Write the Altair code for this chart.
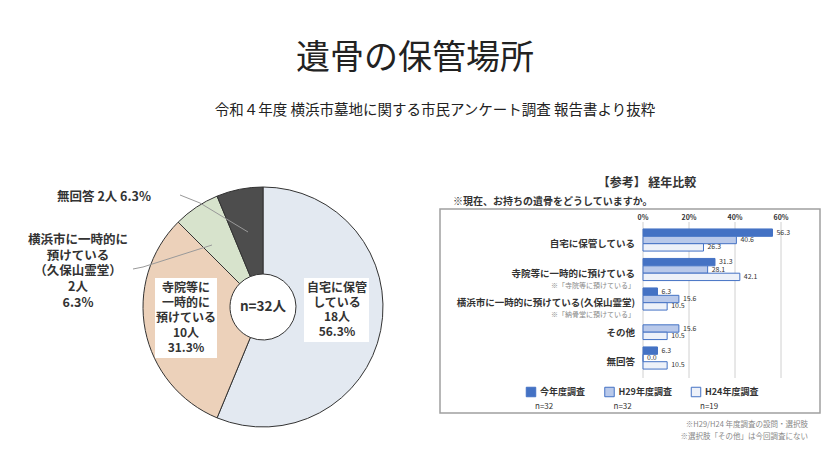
import altair as alt
import pandas as pd

FONT = "Noto Sans CJK JP"

# ---------------- data ----------------
title_text = "遺骨の保管場所"
subtitle_text = "令和４年度 横浜市墓地に関する市民アンケート調査 報告書より抜粋"

pie_labels = ["自宅に保管している", "寺院等に一時的に預けている",
              "横浜市に一時的に預けている（久保山霊堂）", "無回答"]
pie_counts = [18, 10, 2, 2]
pie_pcts = [56.3, 31.3, 6.3, 6.3]
pie_total = 32

bar_cats = ["自宅に保管している", "寺院等に一時的に預けている",
            "横浜市に一時的に預けている(久保山霊堂)", "その他", "無回答"]
bar_notes = ["", "※「寺院等に預けている」", "※「納骨堂に預けている」", "", ""]
series = ["今年度調査", "H29年度調査", "H24年度調査"]
series_n = [32, 32, 19]
v_now = [56.3, 31.3, 6.3, None, 6.3]
v_h29 = [40.6, 28.1, 15.6, 15.6, 0.0]
v_h24 = [26.3, 42.1, 10.5, 10.5, 10.5]
tick_vals = [0, 20, 40, 60]

panel_title = "【参考】 経年比較"
question = "※現在、お持ちの遺骨をどうしていますか。"
footnotes = ["※H29/H24 年度調査の設問・選択肢", "※選択肢「その他」は今回調査にない"]

# ---------------- styles ----------------
pie_colors = ["#e3e9f1", "#ecd1ba", "#d7e3cc", "#4d4d4d"]
bar_fills = ["#4472c4", "#b9c9ea", "#edf1f9"]
BLUE = "#4472c4"
TXT = "#333333"

pie_df = pd.DataFrame({"label": pie_labels, "count": pie_counts,
                       "pct": pie_pcts, "ord": list(range(len(pie_labels)))})

rows = []
for ci, c in enumerate(bar_cats):
    for s, vals in zip(series, [v_now, v_h29, v_h24]):
        if vals[ci] is not None:
            rows.append({"cat": c, "series": s, "v": vals[ci]})
bar_df = pd.DataFrame(rows)
cat_df = pd.DataFrame({"cat": bar_cats, "note": bar_notes})
tick_df = pd.DataFrame({"v": tick_vals, "t": [f"{v}%" for v in tick_vals]})
one = pd.DataFrame({"a": [0]})

xs = alt.Scale(domain=[0, 60], range=[635, 773])
ys = alt.Scale(domain=bar_cats, range=[217.25, 364.75], paddingInner=0.25, paddingOuter=0.125)
yos = alt.Scale(domain=series)

CX, CY = 255, 299

layers = []

# titles
layers.append(alt.Chart(one).mark_text(font=FONT, fontSize=34, color="#222", baseline="middle").encode(
    x=alt.value(407), y=alt.value(51), text=alt.value(title_text)))
layers.append(alt.Chart(one).mark_text(font=FONT, fontSize=14.5, color="#222", baseline="middle").encode(
    x=alt.value(427), y=alt.value(103), text=alt.value(subtitle_text)))

# pie
layers.append(alt.Chart(pie_df).mark_arc(radius=120, innerRadius=33, stroke="#333", strokeWidth=1).encode(
    theta=alt.Theta("count:Q", stack=True),
    order=alt.Order("ord:Q"),
    color=alt.Color("label:N", scale=alt.Scale(domain=pie_labels, range=pie_colors), legend=None),
    x=alt.value(CX), y=alt.value(CY)))

# white boxes behind inside labels
for (x1, x2, y1, y2) in [(296, 361, 270, 334), (147, 209, 270, 350)]:
    layers.append(alt.Chart(one).mark_rect(color="white").encode(
        x=alt.value(x1), x2=alt.value(x2), y=alt.value(y1), y2=alt.value(y2)))

# leader lines
for seg in [[(172, 187), (192, 195)], [(192, 195), (240, 224)],
            [(125, 261), (135, 259)], [(135, 259), (204, 237)]]:
    (a, b), (c, d) = seg
    layers.append(alt.Chart(one).mark_rule(color="#999", strokeWidth=1).encode(
        x=alt.value(a), y=alt.value(b), x2=alt.value(c), y2=alt.value(d)))

pie_text = [
    (["自宅に保管", "している", f"{pie_counts[0]}人", f"{pie_pcts[0]}%"], 329, 280, 14.6, 12),
    (["寺院等に", "一時的に", "預けている", f"{pie_counts[1]}人", f"{pie_pcts[1]}%"], 178, 280, 15, 12),
    (["横浜市に一時的に", "預けている", "（久保山霊堂）", f"{pie_counts[2]}人", f"{pie_pcts[2]}%"], 70, 232, 15.7, 12.5),
    ([f"{pie_labels[3]} {pie_counts[3]}人 {pie_pcts[3]}%"], 96, 189, 15, 12.5),
    ([f"n={pie_total}人"], CX, CY, 15, 13.5),
]
for lines, x, y, lh, fs in pie_text:
    for k, line in enumerate(lines):
        layers.append(alt.Chart(one).mark_text(font=FONT, fontSize=fs, fontWeight="bold", color=TXT,
                                                align="center", baseline="middle").encode(
            x=alt.value(x), y=alt.value(y + k * lh), text=alt.value(line)))

# right panel header
layers.append(alt.Chart(one).mark_text(font=FONT, fontSize=12, fontWeight="bold", color=TXT, baseline="middle").encode(
    x=alt.value(639), y=alt.value(175), text=alt.value(panel_title)))
layers.append(alt.Chart(one).mark_text(font=FONT, fontSize=10, fontWeight="bold", color=TXT, align="left", baseline="middle").encode(
    x=alt.value(445), y=alt.value(194), text=alt.value(question)))
# box
layers.append(alt.Chart(one).mark_rect(fill=None, stroke="#a0a0a0", strokeWidth=1.5).encode(
    x=alt.value(432), x2=alt.value(812), y=alt.value(201), y2=alt.value(405)))

# gridlines + tick labels
layers.append(alt.Chart(tick_df).mark_rule(color="#d0d0d0", strokeWidth=1).encode(
    x=alt.X("v:Q", scale=xs, axis=None), y=alt.value(214), y2=alt.value(370)))
layers.append(alt.Chart(tick_df).mark_text(font=FONT, fontSize=7, fontWeight="bold", color=TXT, baseline="middle").encode(
    x=alt.X("v:Q", scale=xs, axis=None), y=alt.value(210), text="t:N"))

# bars
layers.append(alt.Chart(bar_df).mark_bar(stroke=BLUE, strokeWidth=1).encode(
    x=alt.X("v:Q", scale=xs, axis=None),
    y=alt.Y("cat:N", scale=ys, axis=None),
    yOffset=alt.YOffset("series:N", scale=yos),
    color=alt.Color("series:N", scale=alt.Scale(domain=series, range=bar_fills), legend=None)))
layers.append(alt.Chart(bar_df).mark_text(font=FONT, fontSize=7, color=TXT, align="left", dx=4, baseline="middle").encode(
    x=alt.X("v:Q", scale=xs, axis=None),
    y=alt.Y("cat:N", scale=ys, axis=None),
    yOffset=alt.YOffset("series:N", scale=yos),
    text=alt.Text("v:Q", format=".1f")))

# category labels
layers.append(alt.Chart(cat_df).mark_text(font=FONT, fontSize=9.5, fontWeight="bold", color=TXT, align="right", dy=4, baseline="middle").encode(
    x=alt.value(627), y=alt.Y("cat:N", scale=ys, axis=None), text="cat:N"))
layers.append(alt.Chart(cat_df).transform_filter("datum.note != ''").mark_text(
    font=FONT, fontSize=7, color="#888", align="right", dy=16, baseline="middle").encode(
    x=alt.value(627), y=alt.Y("cat:N", scale=ys, axis=None), text="note:N"))

# legend
leg_sq_x = [523, 601.5, 688]
for i, s in enumerate(series):
    layers.append(alt.Chart(one).mark_square(size=90, fill=bar_fills[i], stroke=BLUE, strokeWidth=1, opacity=1).encode(
        x=alt.value(leg_sq_x[i]), y=alt.value(384)))
    layers.append(alt.Chart(one).mark_text(font=FONT, fontSize=9, fontWeight="bold", color=TXT, align="left", baseline="middle").encode(
        x=alt.value(leg_sq_x[i] + 9), y=alt.value(384), text=alt.value(s)))
    layers.append(alt.Chart(one).mark_text(font=FONT, fontSize=8, color=TXT, align="left", baseline="middle").encode(
        x=alt.value(leg_sq_x[i] + 4), y=alt.value(399), text=alt.value(f"n={series_n[i]}")))

# footnotes
for j, fn in enumerate(footnotes):
    layers.append(alt.Chart(one).mark_text(font=FONT, fontSize=7.5, color="#888", align="right", baseline="middle").encode(
        x=alt.value(800), y=alt.value(417 + 12 * j), text=alt.value(fn)))

chart = alt.layer(*layers).resolve_scale(color="independent").properties(
    width=824, height=457, autosize=alt.AutoSizeParams(type="none"), padding=0
).configure_view(stroke=None)

chart.save("out.html", embed_options={"renderer": "svg", "actions": False})
